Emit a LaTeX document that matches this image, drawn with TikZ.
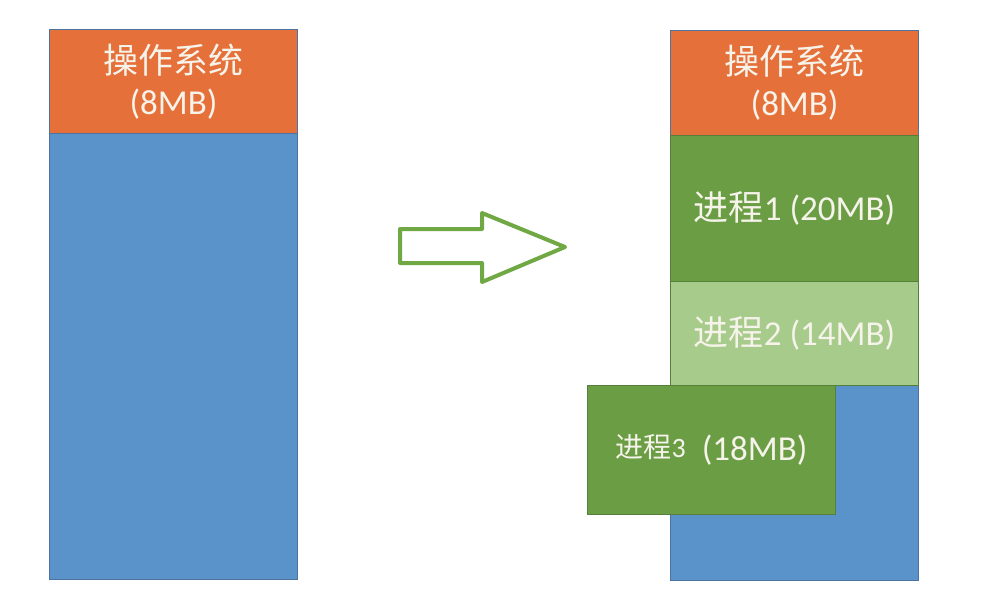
\documentclass[tikz,border=0pt]{standalone}
\usepackage{fontspec}
\setmainfont{Carlito}
\newfontfamily\cjk{Noto Sans CJK SC}
\definecolor{osorange}{HTML}{E5703A}
\definecolor{memblue}{HTML}{5A93C9}
\definecolor{edgeblue}{HTML}{4E73A0}
\definecolor{procgreen}{HTML}{6B9D45}
\definecolor{proclight}{HTML}{A7CB8B}
\definecolor{edgegreen}{HTML}{557F3A}
\definecolor{arrowgreen}{HTML}{70A844}
\definecolor{txt}{HTML}{F6F3EA}
\begin{document}
\begin{tikzpicture}[x=1pt,y=-1pt,
  mem/.style={draw=edgeblue, line width=1.2pt, anchor=north west, inner sep=0pt,
    text=txt, font=\fontsize{35}{41}\selectfont, align=center},
  proc/.style={mem, draw=edgegreen},
  bigarrow/.style={draw=arrowgreen, line width=4pt, line join=round, fill=white}]
\useasboundingbox (0,0) rectangle (987,606);
% left memory
\node[mem, fill=memblue, minimum width=248pt, minimum height=550pt] (lmem) at (49,29) {};
\node[mem, fill=osorange, minimum width=248pt, minimum height=104pt] (los) at (49,29) {{\cjk 操作系统}\\(8MB)};
% arrow
\draw[bigarrow] (400,229) -- (482,229) -- (482,213) -- (565,247) -- (482,282) -- (482,263) -- (400,263) -- cycle;
% right memory
\node[mem, fill=memblue, minimum width=248pt, minimum height=550pt] (rmem) at (670,30) {};
\node[mem, fill=osorange, minimum width=248pt, minimum height=105pt] (ros) at (670,30) {{\cjk 操作系统}\\(8MB)};
\node[proc, fill=procgreen, minimum width=248pt, minimum height=146pt] (p1) at (670,135) {{\cjk 进程}1 (20MB)};
\node[proc, fill=proclight, minimum width=248pt, minimum height=104pt] (p2) at (670,281) {{\cjk 进程}2 (14MB)};
\node[proc, fill=procgreen, minimum width=248pt, minimum height=129pt] (p3) at (587,385)
  {\raisebox{3pt}{\fontsize{28}{30}\selectfont{\cjk 进程}3}\hspace{16pt}(18MB)};
\end{tikzpicture}
\end{document}
